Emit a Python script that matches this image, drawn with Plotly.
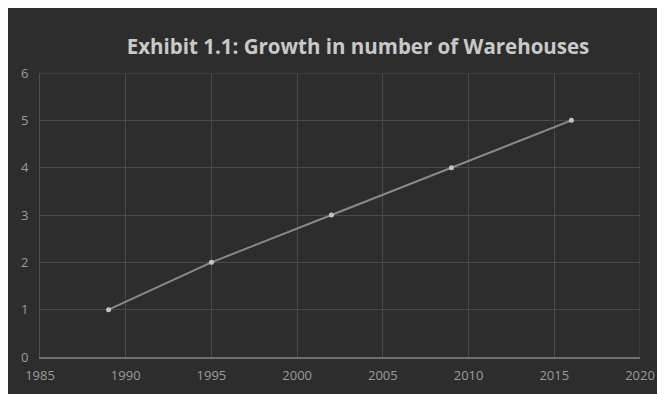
import plotly.graph_objects as go

years = [1989, 1995, 2002, 2009, 2016]
warehouses = [1, 2, 3, 4, 5]
x_ticks = [1985, 1990, 1995, 2000, 2005, 2010, 2015, 2020]
y_ticks = [0, 1, 2, 3, 4, 5, 6]
title_text = "Exhibit 1.1: Growth in number of Warehouses"

W, H = 665, 394
L, R, T, B = 32, 33, 65, 45
pw, ph = W - L - R, H - T - B

fig = go.Figure()
fig.add_trace(go.Scatter(
    x=years, y=warehouses, mode="lines+markers",
    line=dict(color="#8a8a8a", width=2),
    marker=dict(color="#c4c4c4", size=5),
    hoverinfo="x+y", showlegend=False,
))

fig.update_layout(
    width=W, height=H,
    margin=dict(l=L, r=R, t=T, b=B, autoexpand=False),
    paper_bgcolor="#2d2d2d",
    plot_bgcolor="#2d2d2d",
    title=dict(text="<b>" + title_text + "</b>", x=(350 - L) / pw, xref="paper",
               xanchor="center", y=(H - 39) / H, yanchor="middle",
               font=dict(family="Open Sans", size=20.5, color="#c9c9c9")),
    font=dict(family="Open Sans", size=13, color="#9c9c9c"),
    xaxis=dict(range=[1985, 2020], tickvals=x_ticks, ticktext=[str(v) for v in x_ticks],
               showgrid=True, gridcolor="#4a4a4a", gridwidth=1,
               showline=True, linecolor="#707070", linewidth=1.5,
               zeroline=False, ticks="outside", ticklen=6, tickcolor="rgba(0,0,0,0)",
               automargin=False),
    yaxis=dict(range=[0, 6], tickvals=y_ticks, ticktext=[str(v) for v in y_ticks],
               showgrid=True, gridcolor="#4a4a4a", gridwidth=1,
               showline=True, linecolor="#505050", linewidth=1,
               zeroline=False, ticks="outside", ticklen=8, tickcolor="rgba(0,0,0,0)",
               automargin=False),
)

fig.add_shape(type="line", xref="x", yref="y", x0=2020, x1=2020, y0=0, y1=6,
              line=dict(color="#4a4a4a", width=1), layer="below")
fig.add_shape(type="line", xref="x", yref="y", x0=1985, x1=2020, y0=6, y1=6,
              line=dict(color="#4a4a4a", width=1), layer="below")

fig.write_html("out.html")
